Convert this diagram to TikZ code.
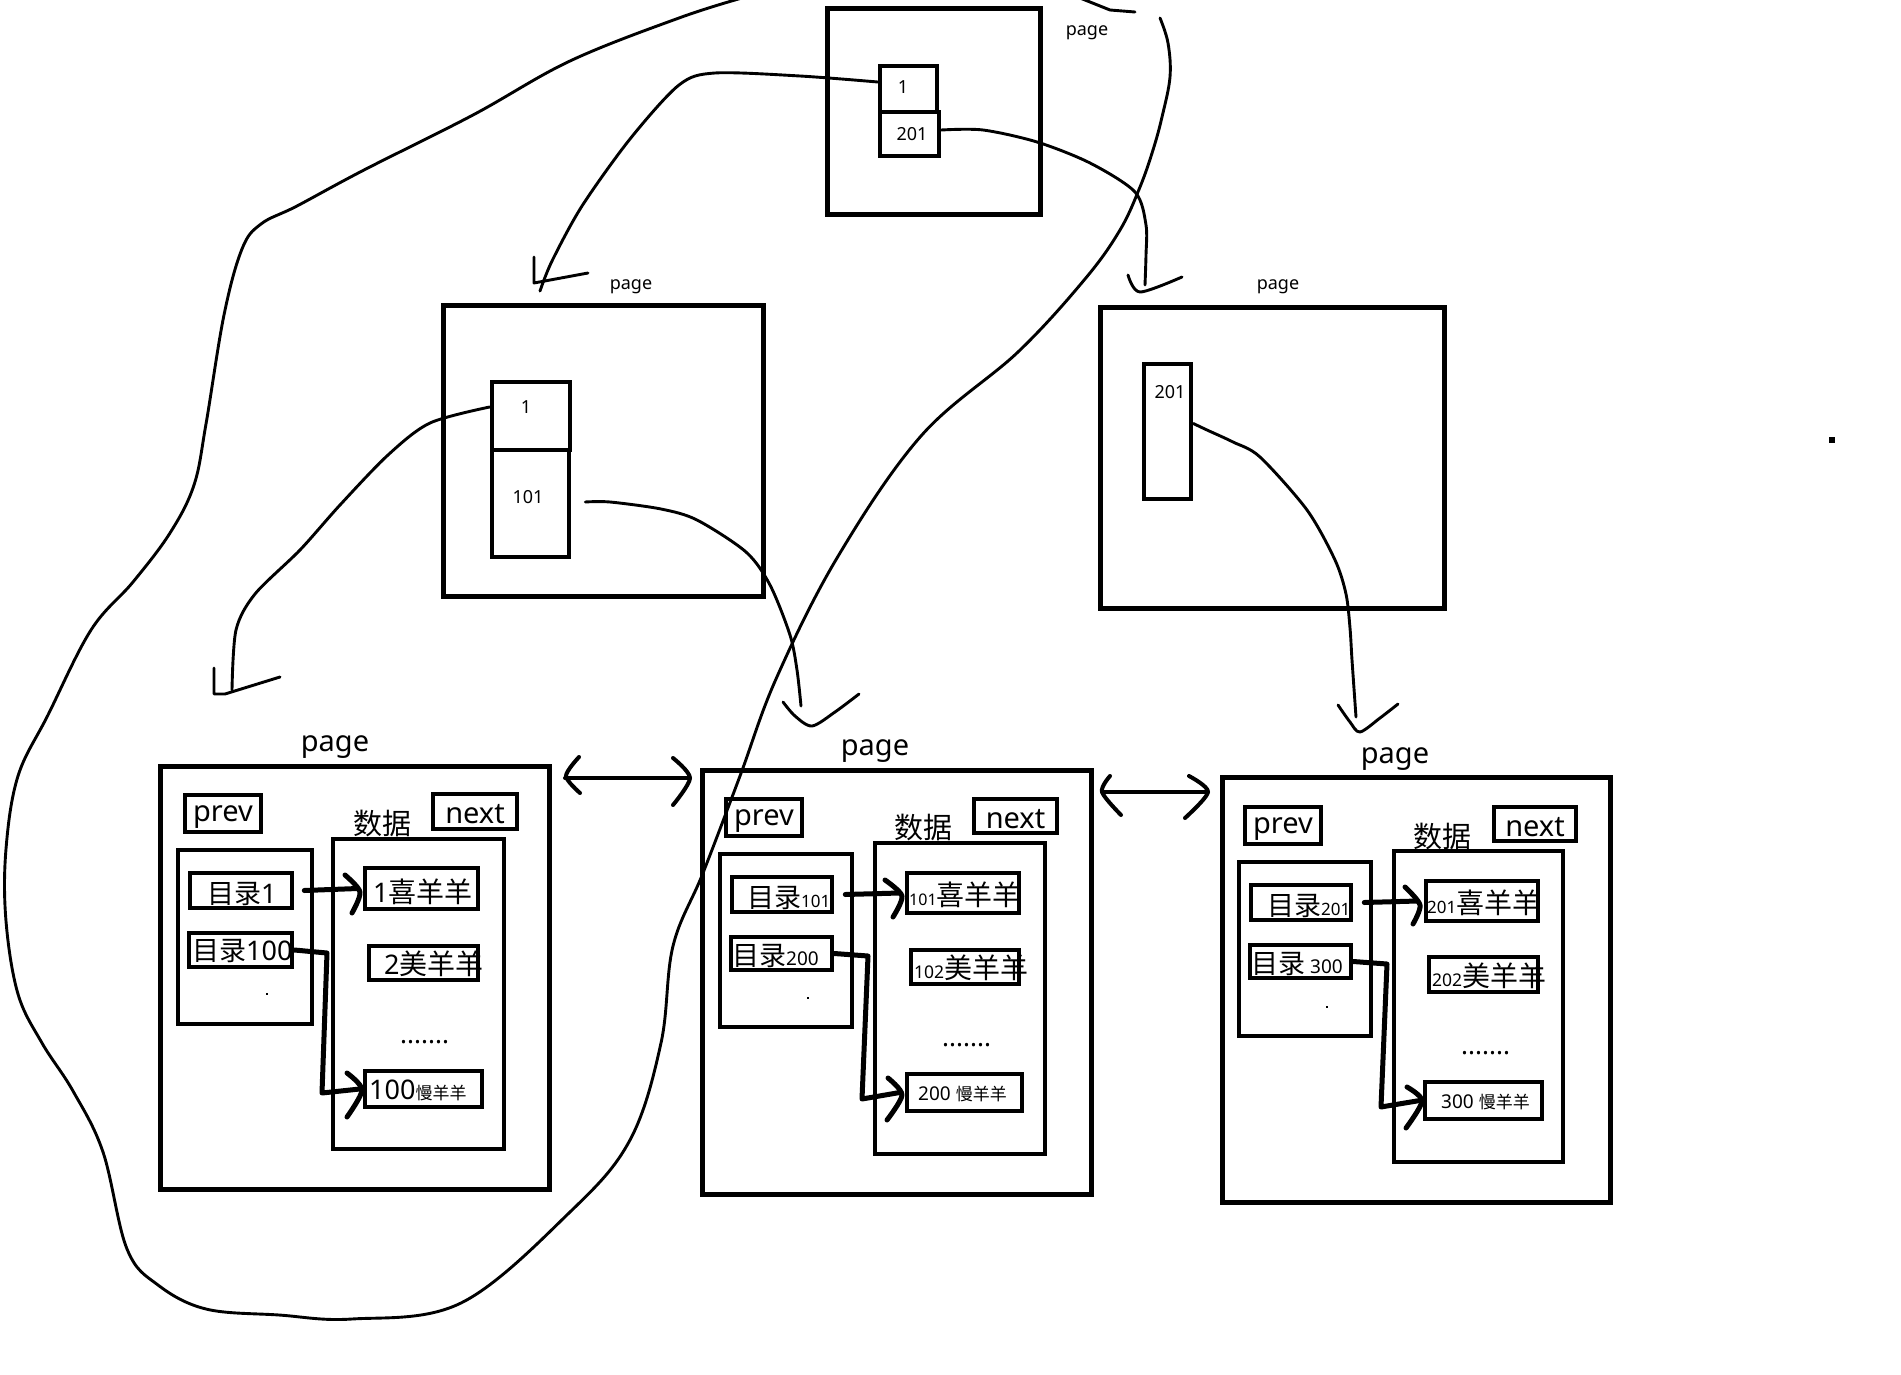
\documentclass[tikz,border=0pt]{standalone}
\usepackage{fontspec}
\setmainfont{Noto Sans}
\newfontfamily\cjk{Noto Sans CJK SC}
\usetikzlibrary{fit,calc}
\newcommand\fs[1]{\fontsize{#1}{#1}\selectfont}
\tikzset{
  pagebox/.style={draw, line width=5pt, inner sep=0pt},
  cellbox/.style={draw, line width=4.6pt, inner sep=0pt},
  thinline/.style={line width=2.9pt, line cap=round, line join=round},
  thickline/.style={line width=5pt, line cap=round, line join=round},
  dblline/.style={line width=4pt, line cap=round, line join=round},
  txt/.style={inner sep=0pt, text=black},
}
\begin{document}
\begin{tikzpicture}[x=1pt,y=-1pt]
\fill[white] (0,0) rectangle (1901,1375);
\useasboundingbox (0,0) rectangle (1901,1375);

% ---------- root page ----------
\node[pagebox, fit={(827,9)(1040,215)}] (R) {};
\node[cellbox, fit={(880,66)(937,112)}] (R1) {};
\node[cellbox, fit={(880,112)(939,156)}] (R2) {};
\node[txt] (R1t) at (903,87) {\fs{18}1};
\node[txt] (R2t) at (912,134) {\fs{18}201};
\node[txt] (Rlab) at (1087,33) {\fs{18}page};

% ---------- middle-left page ----------
\node[pagebox, fit={(443,305)(763,596)}] (M) {};
\node[cellbox, fit={(492,382)(570,450)}] (M1) {};
\node[cellbox, fit={(492,450)(569,557)}] (M2) {};
\node[txt] (M1t) at (526,407) {\fs{18}1};
\node[txt] (M2t) at (528,497) {\fs{18}101};
\node[txt] (Mlab) at (631,287) {\fs{18}page};

% ---------- middle-right page ----------
\node[pagebox, fit={(1100,307)(1444,608)}] (N) {};
\node[cellbox, fit={(1144,364)(1191,499)}] (N1) {};
\node[txt] (N1t) at (1170,392) {\fs{18}201};
\node[txt] (Nlab) at (1278,287) {\fs{18}page};

% ---------- leaf page 1 ----------
\node[pagebox, fit={(160,766)(549,1189)}] (P1) {};
\node[cellbox, fit={(185,795)(261,832)}] (p1prev) {};
\node[cellbox, fit={(433,794)(517,829)}] (p1next) {};
\node[cellbox, fit={(178,850)(312,1024)}] (p1dir) {};
\node[cellbox, fit={(190,873)(292,908)}] (p1d1) {};
\node[cellbox, fit={(189,933)(292,967)}] (p1d2) {};
\node[cellbox, fit={(333,839)(504,1149)}] (p1data) {};
\node[cellbox, fit={(365,868)(478,909)}] (p1e1) {};
\node[cellbox, fit={(369,946)(478,980)}] (p1e2) {};
\node[cellbox, fit={(365,1071)(482,1107)}] (p1e3) {};
\node[txt] (P1lab) at (335,747) {\fs{29}page};
\node[txt] (p1prevt) at ([yshift=-4pt]p1prev.center) {\fs{29}prev};
\node[txt] (p1nextt) at ([yshift=-3pt]p1next.center) {\fs{29}next};
\node[txt] (p1datat) at (382,824) {\fs{29}\cjk 数据};
\node[txt, anchor=west] (p1d1t) at (207,894) {\fs{27}{\cjk 目录}1};
\node[txt, anchor=west] (p1d2t) at (192,951) {\fs{27}{\cjk 目录}100};
\node[txt, anchor=west] (p1e1t) at (373,892) {\fs{27}1{\fs{28}\cjk 喜羊羊}};
\node[txt, anchor=west] (p1e2t) at (384,964) {\fs{27}2{\fs{28}\cjk 美羊羊}};
\node[txt, anchor=west] (p1dots) at (400,1042) {\fs{26}.......};
\node[txt, anchor=west] (p1e3t) at (369,1090) {\fs{27}100{\fs{17}\cjk 慢羊羊}};
\fill (266,993) rectangle (268,995);

% ---------- leaf page 2 ----------
\node[pagebox, fit={(702,770)(1091,1194)}] (P2) {};
\node[cellbox, fit={(726,799)(802,836)}] (p2prev) {};
\node[cellbox, fit={(974,799)(1057,833)}] (p2next) {};
\node[cellbox, fit={(720,854)(852,1027)}] (p2dir) {};
\node[cellbox, fit={(732,877)(832,912)}] (p2d1) {};
\node[cellbox, fit={(731,937)(832,970)}] (p2d2) {};
\node[cellbox, fit={(875,843)(1045,1154)}] (p2data) {};
\node[cellbox, fit={(907,873)(1019,913)}] (p2e1) {};
\node[cellbox, fit={(911,950)(1019,984)}] (p2e2) {};
\node[cellbox, fit={(907,1074)(1022,1111)}] (p2e3) {};
\node[txt] (P2lab) at (875,751) {\fs{29}page};
\node[txt] (p2prevt) at ([yshift=-4pt]p2prev.center) {\fs{29}prev};
\node[txt] (p2nextt) at ([yshift=-3pt]p2next.center) {\fs{29}next};
\node[txt] (p2datat) at (923,828) {\fs{29}\cjk 数据};
\node[txt, anchor=west] (p2d1t) at (747,898) {\fs{27}{\cjk 目录}{\fs{17}101}};
\node[txt, anchor=west] (p2d2t) at (732,956) {\fs{27}{\cjk 目录}{\fs{19}200}};
\node[txt, anchor=west] (p2e1t) at (909,895) {{\fs{16}101}{\fs{28}\cjk 喜羊羊}};
\node[txt, anchor=west] (p2e2t) at (914,968) {{\fs{17.5}102}{\fs{28}\cjk 美羊羊}};
\node[txt, anchor=west] (p2dots) at (942,1045) {\fs{26}.......};
\node[txt, anchor=west] (p2e3t) at (918,1094) {{\fs{19}200 }{\fs{17}\cjk 慢羊羊}};
\fill (807,997) rectangle (809,999);

% ---------- leaf page 3 ----------
\node[pagebox, fit={(1222,777)(1610,1202)}] (P3) {};
\node[cellbox, fit={(1245,807)(1321,844)}] (p3prev) {};
\node[cellbox, fit={(1494,807)(1576,841)}] (p3next) {};
\node[cellbox, fit={(1239,862)(1371,1036)}] (p3dir) {};
\node[cellbox, fit={(1251,885)(1351,920)}] (p3d1) {};
\node[cellbox, fit={(1250,945)(1351,978)}] (p3d2) {};
\node[cellbox, fit={(1394,851)(1563,1162)}] (p3data) {};
\node[cellbox, fit={(1426,881)(1538,921)}] (p3e1) {};
\node[cellbox, fit={(1429,957)(1538,992)}] (p3e2) {};
\node[cellbox, fit={(1425,1082)(1542,1119)}] (p3e3) {};
\node[txt] (P3lab) at (1395,759) {\fs{29}page};
\node[txt] (p3prevt) at ([yshift=-4pt]p3prev.center) {\fs{29}prev};
\node[txt] (p3nextt) at ([yshift=-3pt]p3next.center) {\fs{29}next};
\node[txt] (p3datat) at (1442,837) {\fs{29}\cjk 数据};
\node[txt, anchor=west] (p3d1t) at (1267,906) {\fs{27}{\cjk 目录}{\fs{17}201}};
\node[txt, anchor=west] (p3d2t) at (1251,964) {\fs{27}{\cjk 目录}{\fs{19} 300}};
\node[txt, anchor=west] (p3e1t) at (1427,903) {{\fs{17}201}{\fs{28}\cjk 喜羊羊}};
\node[txt, anchor=west] (p3e2t) at (1432,976) {{\fs{17.5}202}{\fs{28}\cjk 美羊羊}};
\node[txt, anchor=west] (p3dots) at (1461,1053) {\fs{26}.......};
\node[txt, anchor=west] (p3e3t) at (1441,1102) {{\fs{19}300 }{\fs{17}\cjk 慢羊羊}};
\fill (1326,1006) rectangle (1328,1008);

% ---------- arrows inside leaf pages ----------
\draw[thickline] ([xshift=10pt]p1d1.east) -- ([xshift=-5pt]p1e1.west);
\draw[thickline] plot[smooth] coordinates {(345,875) (360,892) (352,913)};
\draw[thickline] (p1d2.east) -- (327,953) -- (322,1093) -- ([xshift=-3pt]p1e3.west);
\draw[thickline] plot[smooth] coordinates {(347,1073) (362,1090) (347,1117)};

\draw[thickline] ([xshift=11pt]p2d1.east) -- ([xshift=-5pt]p2e1.west);
\draw[thickline] plot[smooth] coordinates {(885,880) (902,896) (893,917)};
\draw[thickline] (p2d2.east) -- (868,956) -- (862,1099) -- ([xshift=-5pt]p2e3.west);
\draw[thickline] plot[smooth] coordinates {(888,1078) (902,1095) (887,1120)};

\draw[thickline] ([xshift=11pt]p3d1.east) -- ([xshift=-6pt]p3e1.west);
\draw[thickline] plot[smooth] coordinates {(1405,887) (1420,905) (1413,924)};
\draw[thickline] (p3d2.east) -- (1387,964) -- (1381,1107) -- ([xshift=-3pt]p3e3.west);
\draw[thickline] plot[smooth] coordinates {(1407,1087) (1422,1101) (1406,1128)};

% ---------- double arrows between leaves ----------
\coordinate (d1l) at (565,778);
\coordinate (d1r) at (690,778);
\draw[dblline] (d1l) -- (d1r);
\draw[dblline] plot[smooth] coordinates {(579,757) (566,776) (580,793)};
\draw[dblline] plot[smooth] coordinates {(673,758) (690,778) (673,805)};
\coordinate (d2l) at (1102,792);
\coordinate (d2r) at (1208,792);
\draw[dblline] (d2l) -- (d2r);
\draw[dblline] plot[smooth] coordinates {(1110,776) (1102,792) (1121,815)};
\draw[dblline] plot[smooth] coordinates {(1189,776) (1208,792) (1185,818)};

% ---------- pointers between levels ----------
\coordinate (c1s) at ([yshift=7pt]R1.west);
\draw[thinline] plot[smooth, tension=0.5] coordinates {(c1s) (800,76) (715,73) (679,85) (630,139) (582,206) (552,261) (540,291)};
\draw[thinline] (534,257) -- (534,283) -- (588,273);

\coordinate (c2s) at ([yshift=4pt]R2.east);
\draw[thinline] plot[smooth, tension=0.5] coordinates {(c2s) (983,130) (1037,142) (1090,163) (1135,192) (1146,225) (1146,255) (1145,285)};
\draw[thinline] plot[smooth] coordinates {(1128,275) (1140,292) (1182,277)};

\coordinate (c3s) at ([yshift=9pt]M1.west);
\draw[thinline] plot[smooth, tension=0.5] coordinates {(c3s) (430,423) (388,455) (340,505) (300,550) (255,594) (236,630) (232,690)};
\draw[thinline] (214,668) -- (214,694) -- (225,694) -- (280,677);

\coordinate (c4s) at ([xshift=14pt,yshift=1.5pt]M2.east);
\draw[thinline] plot[smooth, tension=0.5] coordinates {(c4s) (610,502) (661,509) (697,520) (746,552) (770,585) (790,635) (797,670) (801,706)};
\draw[thinline] plot[smooth] coordinates {(783,702) (795,716) (812,726) (835,712) (859,694)};

\coordinate (c5s) at ([yshift=8pt]N1.east);
\draw[thinline] plot[smooth, tension=0.5] coordinates {(c5s) (1207,430) (1233,442) (1260,457) (1307,510) (1335,560) (1346,594) (1350,628) (1352,660) (1356,717)};
\draw[thinline] plot[smooth] coordinates {(1338,705) (1350,722) (1360,732) (1380,718) (1398,704)};

% ---------- big hand-drawn loop ----------
\begin{scope}
\clip (0,0) rectangle (1901,1375);
\draw[thinline] plot[smooth, tension=0.6] coordinates {(742,-2) (679,18) (570,61) (473,115) (364,170) (297,206) (261,224) (242,249) (224,315) (206,424) (194,485) (170,533) (133,582) (91,630) (48,715) (18,776) (6,849) (6,921) (18,994) (42,1043) (73,1091) (103,1152) (127,1249) (158,1285) (206,1309) (279,1315) (352,1319) (461,1303) (570,1212) (630,1140) (661,1043) (673,946) (703,873) (740,776) (776,679) (837,558) (921,436) (1018,352) (1085,279) (1120,230) (1140,187) (1153,150) (1162,117) (1170,77) (1168,43) (1160,18)};
\draw[thinline] (1080,-2) -- (1110,10) -- (1135,12);
\end{scope}

% stray dot
\fill (1829,437) rectangle (1835,443);
\end{tikzpicture}
\end{document}
